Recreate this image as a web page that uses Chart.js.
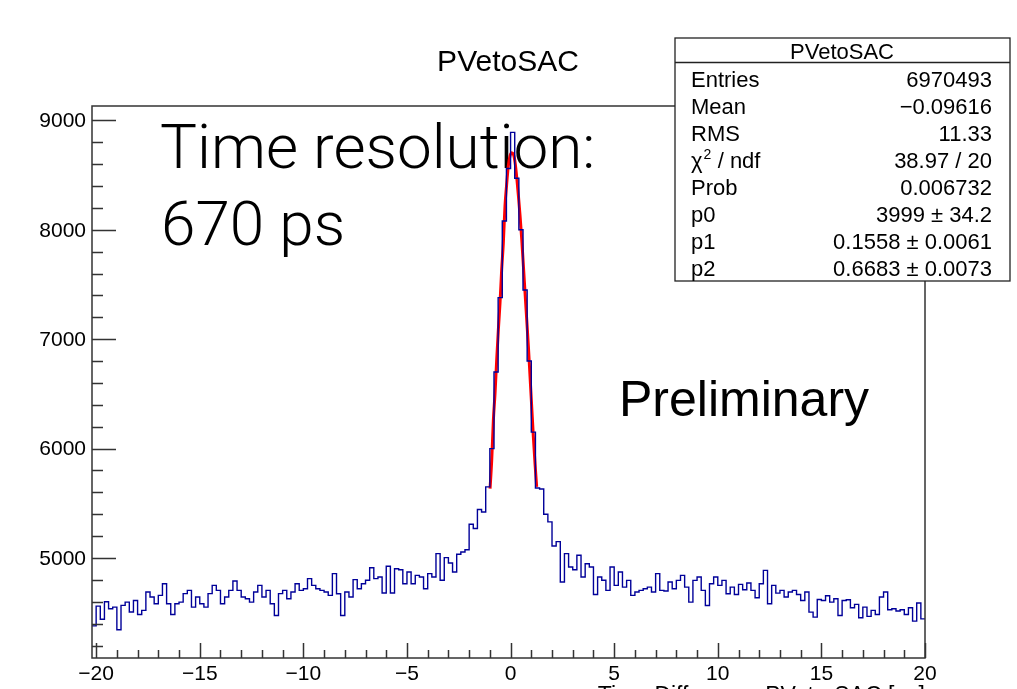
<!DOCTYPE html>
<html>
<head>
<meta charset="utf-8">
<title>PVetoSAC</title>
<script src="https://cdn.jsdelivr.net/npm/chart.js@4.4.0/dist/chart.umd.min.js"></script>
<style>
  html, body { margin: 0; padding: 0; background: #fff; }
  #plot { display: block; }
</style>
</head>
<body>
<canvas id="plot" width="1017" height="689"></canvas>
<script>
// histogram binning (ns), 0.2 ns bins from -20.2 to 20
const binLow = -20.2;
const binHigh = 20.0;
const binWidth = 0.2;

// counts per bin left to right
const counts = [
  4380, 4560, 4440, 4600, 4536, 4551, 4344, 4567, 4597, 4506,
  4612, 4484, 4521, 4689, 4643, 4582, 4658, 4765, 4582, 4484,
  4582, 4597, 4674, 4704, 4551, 4643, 4582, 4551, 4674, 4750,
  4704, 4582, 4643, 4704, 4790, 4704, 4643, 4628, 4597, 4689,
  4750, 4643, 4704, 4582, 4475, 4674, 4704, 4628, 4689, 4765,
  4704, 4719, 4811, 4750, 4719, 4704, 4689, 4658, 4857, 4673,
  4475, 4689, 4643, 4802, 4719, 4765, 4796, 4911, 4811, 4826,
  4680, 4924, 4680, 4902, 4893, 4765, 4872, 4765, 4841, 4826,
  4719, 4857, 4826, 5040, 4796, 5003, 4954, 4872, 5034, 5055,
  5076, 5308, 5269, 5443, 5421, 5650, 6000, 6700, 7380, 8080,
  8560, 8890, 8470, 8000, 7450, 6800, 6150, 5640, 5630, 5400,
  5330, 5110, 5150, 4780, 5040, 4918, 4893, 5025, 4826, 4948,
  4918, 4667, 4826, 4796, 4704, 4918, 4750, 4872, 4734, 4795,
  4658, 4689, 4704, 4719, 4734, 4689, 4857, 4704, 4698, 4780,
  4719, 4795, 4841, 4734, 4597, 4795, 4826, 4704, 4566, 4765,
  4826, 4750, 4795, 4673, 4734, 4667, 4759, 4710, 4771, 4704,
  4637, 4765, 4887, 4582, 4750, 4679, 4704, 4643, 4689, 4704,
  4667, 4612, 4689, 4505, 4460, 4621, 4612, 4655, 4597, 4627,
  4475, 4612, 4618, 4545, 4576, 4454, 4551, 4466, 4521, 4484,
  4643, 4689, 4527, 4536, 4515, 4527, 4484, 4545, 4423, 4588,
  4444
];

// gaussian fit curve (red)
const fitX = [-0.99, -0.91, -0.83, -0.75, -0.67, -0.59, -0.51, -0.43, -0.35, -0.27,
  -0.19, -0.11, -0.03, 0.05, 0.14, 0.22, 0.30, 0.38, 0.46, 0.54,
  0.62, 0.70, 0.78, 0.86, 0.94, 1.02, 1.10, 1.18, 1.26];
const fitY = [5634, 5894, 6260, 6505, 6810, 7085, 7329, 7634, 7878, 8214,
  8413, 8581, 8672, 8703, 8687, 8611, 8474, 8306, 8123, 7909,
  7665, 7420, 7176, 6932, 6657, 6382, 6107, 5863, 5650];

// axis ranges and ticks
const yMin = 4086;
const yMax = 9131;
const yTicks = [5000, 6000, 7000, 8000, 9000];
const yMinorStep = 200;
const xTicks = [-20, -15, -10, -5, 0, 5, 10, 15, 20];
const xTickLabels = ['\u221220', '\u221215', '\u221210', '\u22125', '0', '5', '10', '15', '20'];
const xMinorStep = 1;

// stats box
const statsTitle = 'PVetoSAC';
const statsNames = ['Entries', 'Mean', 'RMS', 'CHI2', 'Prob', 'p0', 'p1', 'p2'];
const statsValues = ['6970493', '\u22120.09616', '11.33', '38.97 / 20', '0.006732',
  '3999 \u00b1 34.2', '0.1558 \u00b1 0.0061', '0.6683 \u00b1 0.0073'];

const plotTitle = 'PVetoSAC';
const xTitle = 'Time Difference PVeto-SAC [ns]';

const ROOT_FONT = '"Liberation Sans", Arial, Helvetica, sans-serif';
const LIGHT_FONT = 'Roboto, Lato, "Liberation Sans", sans-serif';

// histogram as step line: edges + bin centres
const histPoints = [{ x: binLow, y: counts[0] }];
counts.forEach((c, i) => {
  histPoints.push({ x: binLow + binWidth * (i + 0.5), y: c });
});
histPoints.push({ x: binHigh, y: counts[counts.length - 1] });

const fitPoints = fitX.map((x, i) => ({ x: x, y: fitY[i] }));

// frame, inward ticks, labels, stats box and the slide annotations
const rootDecor = {
  id: 'rootDecor',
  beforeDatasetsDraw(chart) {
    const ctx = chart.ctx;
    ctx.save();
    ctx.fillStyle = '#000';
    ctx.textAlign = 'left';
    ctx.textBaseline = 'alphabetic';
    ctx.font = '300 62px ' + LIGHT_FONT;
    ctx.fillText('Time resolution:', 160, 168);
    ctx.fillText('670 ps', 161, 245);
    ctx.font = '50px ' + ROOT_FONT;
    ctx.fillText('Preliminary', 619, 416);
    ctx.restore();
  },
  afterDatasetsDraw(chart) {
    const ctx = chart.ctx;
    const area = chart.chartArea;
    const xs = chart.scales.x;
    const ys = chart.scales.y;
    ctx.save();

    // frame
    ctx.strokeStyle = '#333';
    ctx.lineWidth = 1.5;
    ctx.strokeRect(area.left, area.top, area.right - area.left, area.bottom - area.top);

    // y ticks, drawn inward
    ctx.beginPath();
    for (let v = 4200; v <= yMax; v += yMinorStep) {
      const py = Math.round(ys.getPixelForValue(v)) + 0.5;
      const len = yTicks.includes(v) ? 24 : 11;
      ctx.moveTo(area.left, py);
      ctx.lineTo(area.left + len, py);
    }
    // x ticks, drawn inward
    for (let v = -20; v <= 20; v += xMinorStep) {
      const px = Math.round(xs.getPixelForValue(v)) + 0.5;
      const len = xTicks.includes(v) ? 15 : 8;
      ctx.moveTo(px, area.bottom);
      ctx.lineTo(px, area.bottom - len);
    }
    ctx.stroke();

    // tick labels
    ctx.fillStyle = '#000';
    ctx.font = '21px ' + ROOT_FONT;
    ctx.textAlign = 'right';
    ctx.textBaseline = 'middle';
    yTicks.forEach(v => {
      ctx.fillText(String(v), 86, ys.getPixelForValue(v) + 1);
    });
    ctx.textAlign = 'center';
    ctx.textBaseline = 'alphabetic';
    xTicks.forEach((v, i) => {
      ctx.fillText(xTickLabels[i], xs.getPixelForValue(v), 680);
    });

    // axis title (mostly cut by the bottom edge)
    ctx.textAlign = 'right';
    ctx.font = '23px ' + ROOT_FONT;
    ctx.fillText(xTitle, area.right, 703);

    // histogram title
    ctx.textAlign = 'center';
    ctx.font = '30px ' + ROOT_FONT;
    ctx.fillText(plotTitle, 508, 71);

    // stats box
    const bx = 675, by = 38, bw = 335, bh = 243;
    ctx.fillStyle = '#fff';
    ctx.fillRect(bx, by, bw, bh);
    ctx.strokeStyle = '#222';
    ctx.lineWidth = 1.3;
    ctx.strokeRect(bx, by, bw, bh);
    ctx.beginPath();
    ctx.moveTo(bx, 62.5);
    ctx.lineTo(bx + bw, 62.5);
    ctx.stroke();

    ctx.fillStyle = '#000';
    ctx.font = '22px ' + ROOT_FONT;
    ctx.textAlign = 'center';
    ctx.fillText(statsTitle, 842, 59);

    statsNames.forEach((name, i) => {
      const base = 87 + i * 27;
      ctx.textAlign = 'left';
      if (name === 'CHI2') {
        ctx.fillText('\u03c7', 691, base);
        const w = ctx.measureText('\u03c7').width;
        ctx.font = '14px ' + ROOT_FONT;
        ctx.fillText('2', 691 + w + 1, base - 9);
        ctx.font = '22px ' + ROOT_FONT;
        ctx.fillText(' / ndf', 691 + w + 9, base);
      } else {
        ctx.fillText(name, 691, base);
      }
      ctx.textAlign = 'right';
      ctx.fillText(statsValues[i], 992, base);
    });

    ctx.restore();
  }
};

const chart = new Chart(document.getElementById('plot'), {
  type: 'line',
  data: {
    datasets: [
      {
        label: 'PVetoSAC',
        data: histPoints,
        borderColor: '#000099',
        borderWidth: 1.4,
        stepped: 'middle',
        pointRadius: 0,
        fill: false
      },
      {
        label: 'fit',
        data: fitPoints,
        borderColor: '#ff0000',
        borderWidth: 3,
        pointRadius: 0,
        cubicInterpolationMode: 'monotone',
        fill: false
      }
    ]
  },
  options: {
    responsive: false,
    devicePixelRatio: 1,
    animation: false,
    layout: {
      padding: { left: 92, right: 92, top: 106, bottom: 31 }
    },
    scales: {
      x: { type: 'linear', min: binLow, max: binHigh, display: false },
      y: { type: 'linear', min: yMin, max: yMax, display: false }
    },
    plugins: {
      legend: { display: false },
      tooltip: { enabled: false }
    }
  },
  plugins: [rootDecor]
});
</script>
</body>
</html>
